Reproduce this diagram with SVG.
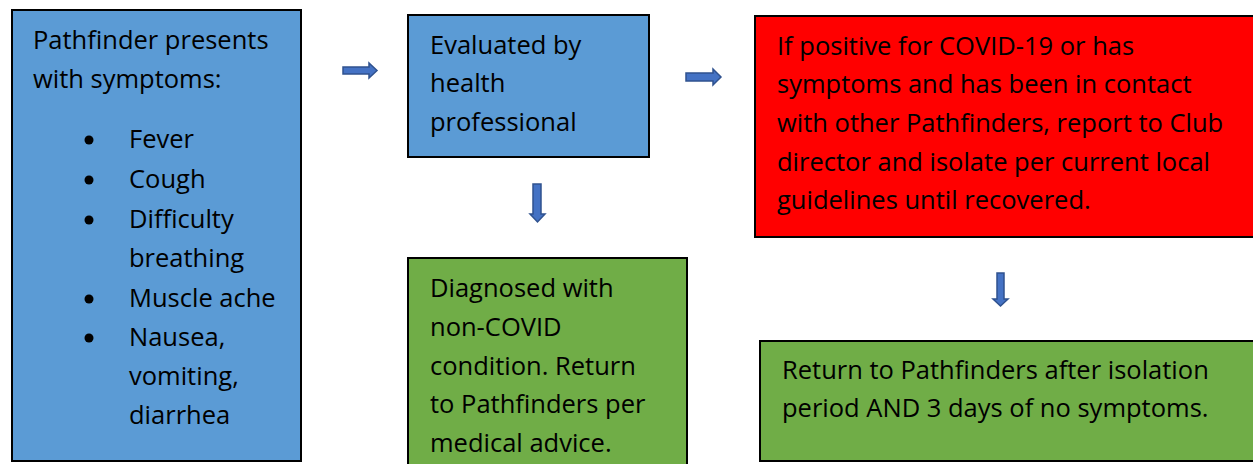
<svg xmlns="http://www.w3.org/2000/svg" width="1253" height="464" viewBox="0 0 1253 464">
<style>
.box{stroke:#000;stroke-width:2}
.blue{fill:#5B9BD5}
.red{fill:#FF0000}
.green{fill:#70AD47}
text{font-family:"Open Sans","Liberation Sans",sans-serif;font-size:25.5px;fill:#000}
.arr{fill:#4472C4;stroke:#2F528F;stroke-width:1.5}
</style>
<rect width="1253" height="464" fill="#fff"/>
<g id="n1">
<rect class="box blue" x="12" y="10" width="289" height="451"/>
<text x="33" y="49">Pathfinder presents</text>
<text x="33" y="88">with symptoms:</text>
<circle cx="89" cy="140" r="4.5"/><text x="129" y="148">Fever</text>
<circle cx="89" cy="180" r="4.5"/><text x="129" y="188">Cough</text>
<circle cx="89" cy="220" r="4.5"/><text x="129" y="228">Difficulty</text>
<text x="129" y="267">breathing</text>
<circle cx="89" cy="299" r="4.5"/><text x="129" y="307">Muscle ache</text>
<circle cx="89" cy="338" r="4.5"/><text x="129" y="346">Nausea,</text>
<text x="129" y="385">vomiting,</text>
<text x="129" y="424">diarrhea</text>
</g>
<g id="n2">
<rect class="box blue" x="408" y="15" width="241" height="142"/>
<text x="430" y="54">Evaluated by</text>
<text x="430" y="92">health</text>
<text x="430" y="131">professional</text>
</g>
<g id="n3">
<rect class="box red" x="755" y="16" width="505" height="221"/>
<text x="777" y="55">If positive for COVID-19 or has</text>
<text x="777" y="93">symptoms and has been in contact</text>
<text x="777" y="132">with other Pathfinders, report to Club</text>
<text x="777" y="171">director and isolate per current local</text>
<text x="777" y="209">guidelines until recovered.</text>
</g>
<g id="n4">
<rect class="box green" x="408" y="258" width="279" height="210"/>
<text x="430" y="297">Diagnosed with</text>
<text x="430" y="336">non-COVID</text>
<text x="430" y="375">condition. Return</text>
<text x="430" y="413">to Pathfinders per</text>
<text x="430" y="452">medical advice.</text>
</g>
<g id="n5">
<rect class="box green" x="760" y="341" width="500" height="120"/>
<text x="782" y="379">Return to Pathfinders after isolation</text>
<text x="782" y="417">period AND 3 days of no symptoms.</text>
</g>
<g id="connectors">
<path class="arr" d="M343,67 H369 V63 L377,70.5 L369,78 V74 H343 Z"/>
<path class="arr" d="M686,73 H713 V69 L721,77 L713,85 V81 H686 Z"/>
<path class="arr" d="M533,184 V214 H530 L537.5,222 L545,214 H541 V184 Z"/>
<path class="arr" d="M997,273 V299 H993 L1000.5,306 L1008,299 H1004 V273 Z"/>
</g>
</svg>
